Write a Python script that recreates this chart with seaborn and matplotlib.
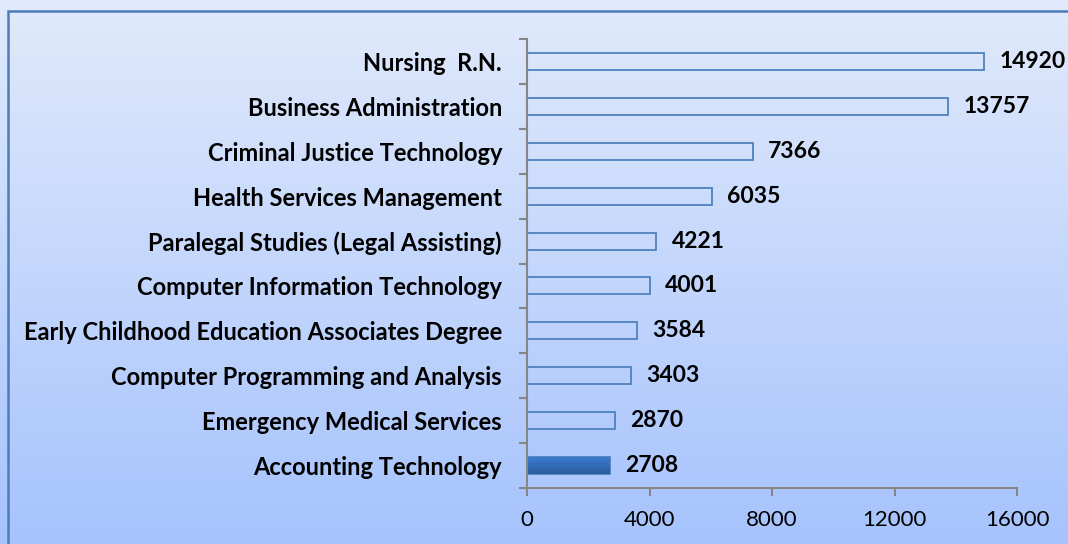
import numpy as np
import pandas as pd
import matplotlib.pyplot as plt
import seaborn as sns
from matplotlib.colors import LinearSegmentedColormap
from matplotlib.patches import Rectangle

# Data
programs = [
    "Nursing  R.N.",
    "Business Administration",
    "Criminal Justice Technology",
    "Health Services Management",
    "Paralegal Studies (Legal Assisting)",
    "Computer Information Technology",
    "Early Childhood Education Associates Degree",
    "Computer Programming and Analysis",
    "Emergency Medical Services",
    "Accounting Technology",
]
counts = [14920, 13757, 7366, 6035, 4221, 4001, 3584, 3403, 2870, 2708]
x_ticks = [0, 4000, 8000, 12000, 16000]

df = pd.DataFrame({"Program": programs, "Count": counts})

sns.set_theme(style="white")
plt.rcParams['font.family'] = ['Lato', 'DejaVu Sans']

fig = plt.figure(figsize=(10.68, 5.44), dpi=100)

# gradient background
bg = fig.add_axes([0, 0, 1, 1], zorder=-5)
bg_cmap = LinearSegmentedColormap.from_list("bg", ["#e1eafb", "#a6c3fd"])
bg.imshow(np.linspace(0, 1, 256).reshape(-1, 1), cmap=bg_cmap, aspect="auto",
          extent=[0, 1, 0, 1], origin="upper")
bg.set_xlim(0, 1)
bg.set_ylim(0, 1)
bg.axis("off")
W, H = 1068, 544
bg.add_patch(Rectangle((8 / W, -0.05), 1.1, 1 - 11 / H + 0.05, fill=False,
                       edgecolor="#4a7ebb", linewidth=1.8))

ax = fig.add_axes([527 / W, 1 - 488 / H, (1017 - 527) / W, (488 - 39) / H])
ax.patch.set_alpha(0)

sns.barplot(data=df, x="Count", y="Program", orient="h", ax=ax, width=0.38,
            fill=False, color="#4f81bd", linewidth=1.3)
for p in ax.patches:
    p.set_edgecolor("#4f81bd")

# Accounting Technology is highlighted with a dark gradient fill
last = ax.patches[-1]
grad = LinearSegmentedColormap.from_list("bar", ["#3d7cd0", "#2b5d9f"])
x0, y0 = last.get_x(), last.get_y()
bw, bh = last.get_width(), last.get_height()
im = ax.imshow(np.linspace(0, 1, 64).reshape(-1, 1), cmap=grad, aspect="auto",
               extent=[x0, x0 + bw, y0 + bh, y0], origin="upper", zorder=1)
im.set_clip_path(last)

ax.bar_label(ax.containers[0], labels=[str(c) for c in counts], padding=11,
             fontsize=16.5, fontweight="bold", color="black")

ax.set_xlim(0, 16000)
ax.set_ylim(len(programs) - 0.5, -0.5)
ax.set_xticks(x_ticks)
ax.set_xticklabels([str(t) for t in x_ticks])
ax.set_yticks(np.arange(-0.5, len(programs), 1.0), minor=True)
ax.set_xlabel("")
ax.set_ylabel("")

for side in ["top", "right"]:
    ax.spines[side].set_visible(False)
for side in ["left", "bottom"]:
    ax.spines[side].set_color("#868686")
    ax.spines[side].set_linewidth(1.5)

ax.tick_params(axis="y", which="major", length=0, pad=18, labelsize=17,
               labelcolor="black")
ax.tick_params(axis="y", which="minor", left=True, length=6, width=1.5,
               color="#868686")
ax.tick_params(axis="x", which="major", bottom=True, length=6, width=1.5,
               color="#868686", pad=10, labelsize=16, labelcolor="black")
for lbl in ax.get_yticklabels():
    lbl.set_fontweight("bold")
ax.grid(False)

fig.savefig("out.png", dpi=100)
